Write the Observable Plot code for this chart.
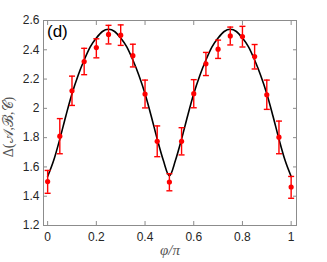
<!DOCTYPE html>
<html>
<head>
<meta charset="utf-8">
<script src="https://cdn.jsdelivr.net/npm/d3@7"></script>
<script src="https://cdn.jsdelivr.net/npm/@observablehq/plot@0.6"></script>
<style>
  body { margin: 0; background: #fff; }
  #chart { position: relative; width: 327px; height: 262px; }
  #panel { position: absolute; left: 47px; top: 22px; font: 17px "Liberation Sans", Arial, sans-serif; color: #000; }
</style>
</head>
<body>
<div id="chart"><div id="panel">(d)</div></div>
<script>
// measured points
const phi = [0, 0.05, 0.1, 0.15, 0.2, 0.25, 0.3, 0.35, 0.4, 0.45, 0.5, 0.55, 0.6, 0.65, 0.7, 0.75, 0.8, 0.85, 0.9, 0.95, 1.0];
const delta = [1.50, 1.81, 2.12, 2.32, 2.415, 2.505, 2.50, 2.36, 2.098, 1.775, 1.497, 1.775, 2.10, 2.304, 2.404, 2.495, 2.49, 2.354, 2.093, 1.803, 1.463];
const errLo = [0.08, 0.12, 0.10, 0.09, 0.07, 0.065, 0.07, 0.077, 0.095, 0.105, 0.06, 0.093, 0.096, 0.08, 0.063, 0.062, 0.071, 0.085, 0.10, 0.113, 0.077];
const errHi = [0.076, 0.12, 0.10, 0.09, 0.06, 0.062, 0.07, 0.078, 0.095, 0.105, 0.057, 0.093, 0.096, 0.078, 0.062, 0.06, 0.07, 0.082, 0.10, 0.11, 0.072];

// theory curve
const curvePhi = [0, 0.025, 0.05, 0.075, 0.1, 0.125, 0.15, 0.175, 0.2, 0.225, 0.25, 0.275, 0.3, 0.325, 0.35, 0.375, 0.4, 0.425, 0.45, 0.475, 0.5,
  0.525, 0.55, 0.575, 0.6, 0.625, 0.65, 0.675, 0.7, 0.725, 0.75, 0.775, 0.8, 0.825, 0.85, 0.875, 0.9, 0.925, 0.95, 0.975, 1.0];
const curveDelta = [1.535, 1.645, 1.79, 1.95, 2.10, 2.225, 2.33, 2.42, 2.48, 2.525, 2.54, 2.525, 2.48, 2.42, 2.33, 2.225, 2.10, 1.95, 1.79, 1.645, 1.54,
  1.645, 1.79, 1.95, 2.10, 2.225, 2.33, 2.42, 2.48, 2.525, 2.54, 2.525, 2.48, 2.42, 2.33, 2.225, 2.10, 1.95, 1.79, 1.645, 1.535];

const xTicks = [0, 0.2, 0.4, 0.6, 0.8, 1];
const yTicks = [1.2, 1.4, 1.6, 1.8, 2, 2.2, 2.4, 2.6];
const xLabel = "φ/π";
const yLabel = "Δ(𝒜,ℬ,𝒞)";

const pts = phi.map((p, i) => ({x: p, y: delta[i], lo: delta[i] - errLo[i], hi: delta[i] + errHi[i]}));
const curve = curvePhi.map((p, i) => ({x: p, y: curveDelta[i]}));

const cap = {draw(ctx, size) { const w = Math.sqrt(size / Math.PI); ctx.moveTo(-w, 0); ctx.lineTo(w, 0); }};

const axisColor = "#8c8c8c";
const serif = "'Liberation Serif', 'DejaVu Serif', serif";
const chart = Plot.plot({
  width: 327,
  height: 262,
  marginLeft: 43,
  marginRight: 31,
  marginTop: 20,
  marginBottom: 37,
  style: {fontFamily: "'Liberation Sans', Arial, sans-serif", fontSize: "12px", color: "#262626", background: "#fff"},
  x: {domain: [-0.017, 1.022]},
  y: {domain: [1.2, 2.6]},
  marks: [
    Plot.frame({stroke: axisColor, strokeWidth: 1}),
    Plot.axisX({ticks: xTicks, tickSize: -4, stroke: axisColor, tickPadding: 11, label: null, fontSize: 12, tickFormat: d3.format("~g")}),
    Plot.axisX({anchor: "top", ticks: xTicks, tickSize: -4, stroke: axisColor, tickFormat: () => "", label: null}),
    Plot.axisY({ticks: yTicks, tickSize: -4, stroke: axisColor, tickPadding: 8, label: null, fontSize: 12, tickFormat: d3.format("~g")}),
    Plot.axisY({anchor: "right", ticks: yTicks, tickSize: -4, stroke: axisColor, tickFormat: () => "", label: null}),
    Plot.text([xLabel], {frameAnchor: "bottom", dy: 29, text: d => d, fontFamily: serif, fontStyle: "italic", fontSize: 15, fill: "#555", textAnchor: "middle"}),
    Plot.text([yLabel], {frameAnchor: "left", dx: -35, dy: 4, rotate: -90, text: d => d, fontFamily: serif, fontSize: 14, fill: "#555", textAnchor: "middle"}),
    Plot.line(curve, {x: "x", y: "y", stroke: "#000", strokeWidth: 1.6, curve: "monotone-x"}),
    Plot.ruleX(pts, {x: "x", y1: "lo", y2: "hi", stroke: "#ff0000", strokeWidth: 1.4}),
    Plot.dot(pts, {x: "x", y: "lo", symbol: cap, r: 3, stroke: "#ff0000", strokeWidth: 1.4}),
    Plot.dot(pts, {x: "x", y: "hi", symbol: cap, r: 3, stroke: "#ff0000", strokeWidth: 1.4}),
    Plot.dot(pts, {x: "x", y: "y", r: 2.6, fill: "#ff0000", stroke: "none"})
  ]
});
document.getElementById("chart").prepend(chart);
</script>
</body>
</html>
